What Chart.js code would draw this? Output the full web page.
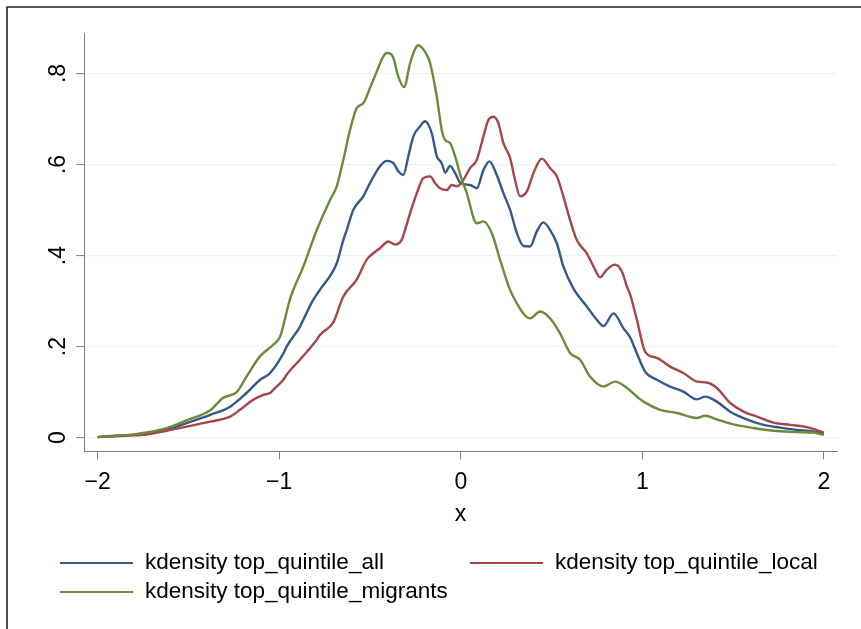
<!DOCTYPE html>
<html>
<head>
<meta charset="utf-8">
<title>kdensity top quintile</title>
<script src="https://cdn.jsdelivr.net/npm/chart.js@4.4.0/dist/chart.umd.min.js"></script>
<style>
    html, body { margin: 0; padding: 0; background: #fff; }
    #wrap { width: 861px; height: 629px; }
</style>
</head>
<body>
<div id="wrap"><canvas id="kdensityChart" width="861" height="629"></canvas></div>
<script>
// Ticks of the two axes
const xTicks = [-2, -1, 0, 1, 2];
const yTicks = [0, 0.2, 0.4, 0.6, 0.8];

// Series names (legend order: all, local, migrants)
const seriesLabels = [
    'kdensity top_quintile_all',
    'kdensity top_quintile_local',
    'kdensity top_quintile_migrants'
];

// kdensity top_quintile_all
const allX = [-2.0, -1.9, -1.8, -1.75, -1.62, -1.51, -1.38, -1.27, -1.18, -1.105, -1.05, -0.977, -0.959,
    -0.885, -0.867, -0.812, -0.775, -0.683, -0.647, -0.628, -0.592, -0.537, -0.5, -0.445, -0.408, -0.371,
    -0.344, -0.316, -0.289, -0.261, -0.224, -0.197, -0.16, -0.132, -0.105, -0.086, -0.059, -0.031, 0,
    0.051, 0.088, 0.125, 0.158, 0.198, 0.235, 0.272, 0.309, 0.345, 0.382, 0.419, 0.455, 0.492, 0.529,
    0.565, 0.62, 0.694, 0.749, 0.786, 0.841, 0.896, 0.933, 0.97, 1.015, 1.08, 1.153, 1.226, 1.3, 1.346,
    1.41, 1.484, 1.557, 1.667, 1.759, 1.851, 1.943, 2.0];
const allY = [0.001, 0.004, 0.006, 0.008, 0.017, 0.032, 0.05, 0.068, 0.098, 0.127, 0.142, 0.185, 0.2,
    0.244, 0.259, 0.303, 0.325, 0.383, 0.434, 0.456, 0.5, 0.53, 0.559, 0.596, 0.608, 0.603,
    0.585, 0.577, 0.618, 0.662, 0.684, 0.695, 0.669, 0.618, 0.603, 0.582, 0.597, 0.581, 0.559,
    0.555, 0.548, 0.588, 0.607, 0.577, 0.537, 0.5, 0.449, 0.421, 0.42, 0.453, 0.473, 0.456, 0.427,
    0.376, 0.328, 0.288, 0.259, 0.245, 0.273, 0.24, 0.22, 0.185, 0.145, 0.127, 0.112, 0.101, 0.084, 0.09,
    0.079, 0.057, 0.043, 0.028, 0.022, 0.017, 0.013, 0.008];

// kdensity top_quintile_local
const localX = [-2.0, -1.9, -1.8, -1.75, -1.62, -1.51, -1.38, -1.27, -1.216, -1.143, -1.088, -1.05, -1.033,
    -0.977, -0.959, -0.875, -0.793, -0.775, -0.702, -0.647, -0.573, -0.518, -0.482, -0.445, -0.399, -0.362,
    -0.325, -0.307, -0.279, -0.242, -0.206, -0.169, -0.141, -0.114, -0.077, -0.05, -0.022, 0.014, 0.051,
    0.088, 0.125, 0.152, 0.18, 0.207, 0.235, 0.272, 0.299, 0.327, 0.364, 0.4, 0.446, 0.492, 0.529, 0.565,
    0.602, 0.639, 0.694, 0.731, 0.767, 0.804, 0.85, 0.887, 0.915, 0.933, 0.97, 1.015, 1.08, 1.153, 1.226,
    1.3, 1.355, 1.41, 1.484, 1.557, 1.631, 1.722, 1.814, 1.906, 2.0];
const localY = [0.001, 0.003, 0.005, 0.006, 0.015, 0.024, 0.035, 0.046, 0.061, 0.083, 0.094, 0.098, 0.105,
    0.127, 0.138, 0.176, 0.215, 0.226, 0.253, 0.31, 0.347, 0.391, 0.405, 0.416, 0.431, 0.424,
    0.435, 0.456, 0.493, 0.537, 0.57, 0.574, 0.559, 0.548, 0.544, 0.555, 0.552, 0.566, 0.592,
    0.61, 0.662, 0.698, 0.705, 0.691, 0.647, 0.614, 0.566, 0.53, 0.541, 0.581, 0.613, 0.592, 0.574, 0.53,
    0.478, 0.434, 0.405, 0.376, 0.352, 0.369, 0.38, 0.365, 0.332, 0.314, 0.259, 0.189, 0.175, 0.156, 0.142,
    0.123, 0.121, 0.109, 0.076, 0.057, 0.046, 0.033, 0.028, 0.023, 0.011];

// kdensity top_quintile_migrants
const migrantsX = [-2.0, -1.9, -1.8, -1.75, -1.62, -1.51, -1.38, -1.31, -1.234, -1.18, -1.105, -1.03, -0.995,
    -0.94, -0.867, -0.793, -0.72, -0.683, -0.647, -0.61, -0.573, -0.536, -0.5, -0.463, -0.43, -0.408,
    -0.385, -0.371, -0.344, -0.312, -0.279, -0.25, -0.234, -0.21, -0.187, -0.169, -0.132, -0.105, -0.086,
    -0.059, -0.031, 0, 0.033, 0.088, 0.125, 0.171, 0.217, 0.272, 0.309, 0.35, 0.382, 0.437, 0.492, 0.547,
    0.602, 0.657, 0.712, 0.786, 0.85, 0.915, 0.979, 1.006, 1.098, 1.19, 1.3, 1.346, 1.41, 1.502, 1.612,
    1.722, 1.851, 1.943, 2.0];
const migrantsY = [0.001, 0.004, 0.007, 0.01, 0.021, 0.038, 0.06, 0.087, 0.1, 0.134, 0.179, 0.205, 0.222,
    0.305, 0.376, 0.456, 0.522, 0.552, 0.61, 0.676, 0.724, 0.735, 0.768, 0.804, 0.835, 0.845,
    0.843, 0.834, 0.793, 0.77, 0.823, 0.855, 0.862, 0.855, 0.841, 0.823, 0.749, 0.676, 0.654,
    0.647, 0.618, 0.574, 0.537, 0.471, 0.475, 0.449, 0.39, 0.324, 0.295, 0.27, 0.262, 0.277, 0.262, 0.229,
    0.186, 0.171, 0.134, 0.112, 0.123, 0.109, 0.087, 0.079, 0.061, 0.054, 0.043, 0.048, 0.04, 0.029, 0.021,
    0.015, 0.012, 0.011, 0.006];

const lineColors = ['#36598b', '#a3474b', '#6d8a3b'];
const fontFamily = "'Liberation Sans', Arial, sans-serif";

function toPoints(xs, ys) {
    return xs.map((x, i) => ({ x: x, y: ys[i] }));
}

function fmtX(v) {
    return v < 0 ? '\u2212' + Math.abs(v) : String(v);
}

function fmtY(v) {
    if (v === 0) return '0';
    return String(Math.round(v * 10) / 10).replace(/^0/, '');
}

// white page + the cut frame (top and left edges only)
const framePlugin = {
    id: 'frame',
    beforeDraw(chart) {
        const ctx = chart.ctx;
        ctx.save();
        ctx.fillStyle = '#fff';
        ctx.fillRect(0, 0, chart.width, chart.height);
        ctx.strokeStyle = '#222';
        ctx.lineWidth = 1.6;
        ctx.beginPath();
        ctx.moveTo(7, chart.height);
        ctx.lineTo(7, 7);
        ctx.lineTo(chart.width, 7);
        ctx.stroke();
        ctx.restore();
    }
};

// Stata style legend: two columns, row-major
const legendPlugin = {
    id: 'stataLegend',
    afterDraw(chart) {
        const ctx = chart.ctx;
        const cols = [60, 470];
        const rows = [563, 592];
        ctx.save();
        ctx.font = '22.5px ' + fontFamily;
        ctx.textBaseline = 'middle';
        ctx.textAlign = 'left';
        chart.data.datasets.forEach((ds, i) => {
            const x = cols[i % 2];
            const y = rows[Math.floor(i / 2)];
            ctx.strokeStyle = ds.borderColor;
            ctx.lineWidth = 2.2;
            ctx.beginPath();
            ctx.moveTo(x, y);
            ctx.lineTo(x + 73, y);
            ctx.stroke();
            ctx.fillStyle = '#000';
            ctx.fillText(ds.label, x + 85, y);
        });
        ctx.restore();
    }
};

const ctx = document.getElementById('kdensityChart');
new Chart(ctx, {
    type: 'line',
    data: {
        datasets: [
            { label: seriesLabels[0], data: toPoints(allX, allY), order: 3 },
            { label: seriesLabels[1], data: toPoints(localX, localY), order: 2 },
            { label: seriesLabels[2], data: toPoints(migrantsX, migrantsY), order: 1 }
        ].map((ds, i) => Object.assign(ds, {
            borderColor: lineColors[i],
            backgroundColor: lineColors[i],
            borderWidth: 2.4,
            pointRadius: 0,
            fill: false,
            cubicInterpolationMode: 'monotone'
        }))
    },
    options: {
        responsive: false,
        animation: false,
        layout: { padding: { left: 0, right: 24, top: 33, bottom: 97.3 } },
        plugins: {
            legend: { display: false },
            tooltip: { enabled: false }
        },
        scales: {
            x: {
                type: 'linear',
                min: -2.075,
                max: 2.072,
                afterBuildTicks: s => { s.ticks = xTicks.map(v => ({ value: v })); },
                afterFit: s => { s.height = 80; },
                ticks: {
                    callback: v => fmtX(v),
                    color: '#000',
                    font: { size: 23, family: fontFamily },
                    padding: 9,
                    maxRotation: 0
                },
                grid: {
                    drawOnChartArea: false,
                    tickLength: 7.7,
                    tickColor: '#7f7f7f',
                    tickWidth: 1
                },
                border: { display: true, color: '#7f7f7f', width: 1 },
                title: {
                    display: true,
                    text: 'x',
                    color: '#000',
                    font: { size: 23, family: fontFamily },
                    padding: { top: 0, bottom: 3 }
                }
            },
            y: {
                type: 'linear',
                min: -0.031,
                max: 0.889,
                afterBuildTicks: s => { s.ticks = yTicks.map(v => ({ value: v })); },
                afterFit: s => { s.width = 84; },
                ticks: {
                    callback: v => fmtY(v),
                    color: '#000',
                    font: { size: 23, family: fontFamily },
                    padding: 8,
                    minRotation: 90,
                    maxRotation: 90,
                    crossAlign: 'center'
                },
                grid: {
                    drawOnChartArea: true,
                    color: '#edf2f2',
                    lineWidth: 1.2,
                    tickLength: 7.7,
                    tickColor: '#7f7f7f',
                    tickWidth: 1
                },
                border: { display: true, color: '#7f7f7f', width: 1 }
            }
        }
    },
    plugins: [framePlugin, legendPlugin]
});
</script>
</body>
</html>
